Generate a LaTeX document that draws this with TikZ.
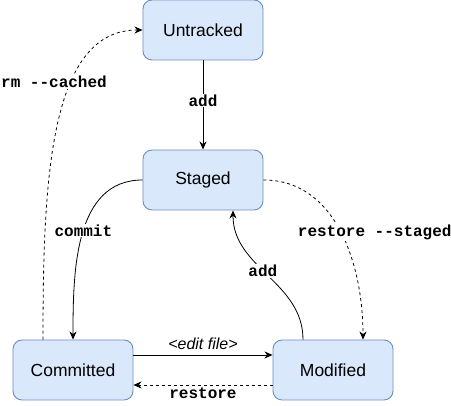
\documentclass[tikz,border=0pt]{standalone}
\usepackage{fontspec}
\setmainfont{Liberation Sans}
\setmonofont{Liberation Mono}
\usetikzlibrary{arrows.meta}

\definecolor{boxfill}{HTML}{DAE8FC}
\definecolor{boxline}{HTML}{6C8EBF}

\tikzset{
  gitstate/.style={draw=boxline, fill=boxfill, rounded corners=9pt,
    minimum width=120pt, minimum height=60pt, line width=0.9pt,
    font=\fontsize{17.5pt}{21pt}\selectfont},
  trans/.style={line width=0.8pt, -{Stealth[length=8pt,width=7pt,inset=2.5pt]}},
  undo/.style={trans, dash pattern=on 3pt off 3pt},
  cmd/.style={fill=white, inner sep=1pt,
    font=\ttfamily\bfseries\fontsize{16pt}{18pt}\selectfont},
}

\begin{document}
\begin{tikzpicture}[x=1pt,y=1pt]
    \useasboundingbox (0,0) rectangle (451,406);

    % States of a file
    \node[gitstate] (untracked) at (203,376) {Untracked};
    \node[gitstate] (staged) at (203,226) {Staged};
    \node[gitstate] (committed) at (73,36) {Committed};
    \node[gitstate] (modified) at (333,36) {Modified};

    % Moving forward
    \draw[trans] (untracked) -- node[cmd, pos=0.45] (lbladd) {add} (staged);
    \draw[trans] (staged.west) to[out=180,in=90] node[cmd, pos=0.48] (lblcommit) {commit} (committed.north);
    \draw[trans] ([yshift=15pt]committed.east) -- node[above=4pt, inner sep=1pt, font=\itshape\fontsize{16pt}{18pt}\selectfont] (lbledit) {<edit file>} ([yshift=15pt]modified.west);
    \draw[trans] ([xshift=-30pt]modified.north) to[out=90,in=-90] node[cmd, pos=0.54, xshift=-1pt] (lbladdmod) {add} ([xshift=30pt]staged.south);

    % Going back
    \draw[undo] (staged.east) to[out=0,in=90] node[cmd, xshift=34pt] (lblunstage) {restore --staged} ([xshift=30pt]modified.north);
    \draw[undo] ([yshift=-15pt]modified.west) -- node[cmd, below=1pt] (lblrestore) {restore} ([yshift=-15pt]committed.east);
    \draw[undo] ([xshift=-30pt]committed.north) .. controls +(0,160) and +(-93,0) .. node[cmd, pos=0.64, xshift=-18pt] (lblrm) {rm --cached} (untracked.west);
\end{tikzpicture}
\end{document}
